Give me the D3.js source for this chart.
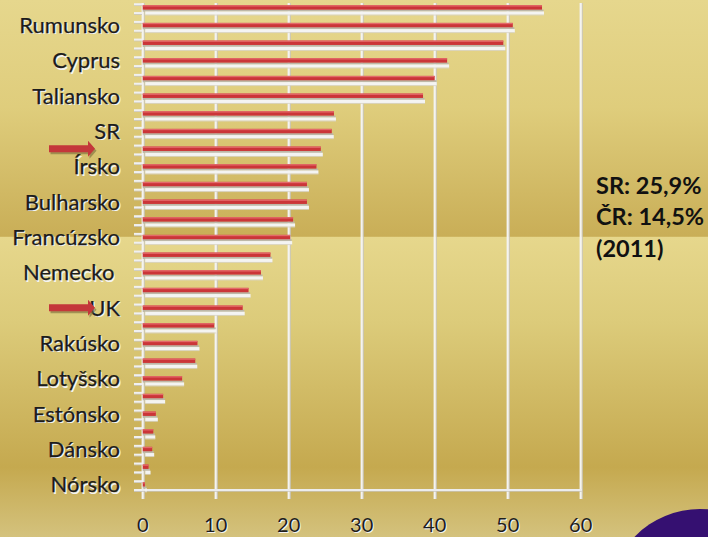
<!DOCTYPE html>
<html>
<head>
<meta charset="utf-8">
<script src="https://cdn.jsdelivr.net/npm/d3@7/dist/d3.min.js"></script>
<style>
  html, body { margin: 0; padding: 0; background: #e4d489; }
  svg { display: block; }
  text { white-space: pre; }
</style>
</head>
<body>
<svg id="chart" width="708" height="537"></svg>
<script>
// ---- data (top to bottom) ----
const categoryLabels = ["", "Rumunsko", "", "Cyprus", "", "Taliansko", "", "SR", "", "Írsko",
  "", "Bulharsko", "", "Francúzsko", "", "Nemecko ", "", "UK", "", "Rakúsko",
  "", "Lotyšsko", "", "Estónsko", "", "Dánsko", "", "Nórsko"];
const values = [54.7, 50.7, 49.4, 41.7, 40.0, 38.4, 26.2, 25.9, 24.4, 23.8,
  22.5, 22.5, 20.6, 20.2, 17.5, 16.2, 14.5, 13.7, 9.8, 7.5,
  7.2, 5.4, 2.8, 1.8, 1.45, 1.3, 0.8, 0.3];
const xTicks = [0, 10, 20, 30, 40, 50, 60];
const arrowRows = [8, 17];
const noteLines = ["SR: 25,9%", "ČR: 14,5%", "(2011)"];

const svg = d3.select("#chart");
const W = 708, H = 537;

// ---- background ----
const defs = svg.append("defs");
const bg = defs.append("linearGradient").attr("id", "bg").attr("x1", 0).attr("y1", 0).attr("x2", 0).attr("y2", 1);
[[0, "#e6d78d"], [0.2, "#dfcd7c"], [0.44, "#c9ae57"], [0.442, "#e6d78c"], [0.6, "#dccb7a"],
 [0.87, "#c5a94f"], [1, "#d4c27d"]].forEach(([o, c]) => bg.append("stop").attr("offset", o).attr("stop-color", c));
svg.append("rect").attr("width", W).attr("height", H).attr("fill", "url(#bg)");

// purple corner shape
svg.append("circle").attr("cx", 700).attr("cy", 600).attr("r", 91).attr("fill", "#351071");

// ---- scales ----
const x = d3.scaleLinear().domain([0, 60]).range([142.7, 580.7]);
const y = d3.scaleBand().domain(d3.range(values.length)).range([-4.6, 490]).padding(0);
const bw = y.bandwidth();
const redTop = i => y(i) + bw / 2 + 1.0;

// ---- grid lines ----
const grid = svg.append("g");
xTicks.forEach(t => {
  grid.append("line").attr("x1", x(t) + 1.6).attr("x2", x(t) + 1.6).attr("y1", 3).attr("y2", 499)
    .attr("stroke", "#c9c6bd").attr("stroke-width", 1);
  grid.append("line").attr("x1", x(t)).attr("x2", x(t)).attr("y1", 3).attr("y2", 499)
    .attr("stroke", "#f3f3f3").attr("stroke-width", 2.2);
});
// bottom axis line
grid.append("line").attr("x1", 134).attr("x2", x(60) + 1).attr("y1", 491.2).attr("y2", 491.2)
  .attr("stroke", "#c9c6bd").attr("stroke-width", 1);
grid.append("line").attr("x1", 134).attr("x2", x(60) + 1).attr("y1", 490).attr("y2", 490)
  .attr("stroke", "#ececec").attr("stroke-width", 2);

// left ticks every half band
const halfTicks = d3.range(values.length * 2).map(k => y(0) + bw / 2 + k * bw / 2);
halfTicks.forEach(ty => {
  grid.append("line").attr("x1", 134).attr("x2", 142).attr("y1", ty + 1.3).attr("y2", ty + 1.3)
    .attr("stroke", "#c9c6bd").attr("stroke-width", 1);
  grid.append("line").attr("x1", 134).attr("x2", 142).attr("y1", ty).attr("y2", ty)
    .attr("stroke", "#f0f0f0").attr("stroke-width", 2);
});

// ---- bars ----
const bars = svg.append("g");
values.forEach((v, i) => {
  const t = redTop(i);
  // shadow
  bars.append("rect").attr("x", x(0)).attr("y", t + 4.2).attr("width", Math.max(0, x(v) - x(0) + 1.5)).attr("height", 2.2)
    .attr("fill", "#bdb8a8");
  bars.append("rect").attr("x", x(0) + 2.5).attr("y", t + 6.2).attr("width", Math.max(0, x(v) - x(0) - 0.5)).attr("height", 3.3)
    .attr("fill", "#f4f4f2");
  bars.append("rect").attr("x", x(0) + 2.5).attr("y", t + 9.4).attr("width", Math.max(0, x(v) - x(0) - 0.5)).attr("height", 0.8)
    .attr("fill", "#d8d4c8");
  // red bar
  bars.append("rect").attr("x", x(0)).attr("y", t).attr("width", x(v) - x(0)).attr("height", 4.4)
    .attr("fill", "#cb3538");
  bars.append("rect").attr("x", x(0)).attr("y", t).attr("width", x(v) - x(0)).attr("height", 1.3)
    .attr("fill", "#e46a6a");
});

// ---- category labels ----
const labelFont = "Lato, 'Open Sans', sans-serif";
const lab = svg.append("g").attr("font-family", labelFont).attr("font-size", 22).attr("text-anchor", "end");
categoryLabels.forEach((name, i) => {
  if (!name) return;
  const by = redTop(i) + 2.2 + 8.0;
  lab.append("text").attr("x", 121.4).attr("y", by + 1.4).attr("fill", "#f4f4f4").text(name);
  lab.append("text").attr("x", 120).attr("y", by).attr("fill", "#1c1c1c")
    .attr("stroke", "#1c1c1c").attr("stroke-width", 0.25).text(name);
});

// ---- x tick labels ----
const xl = svg.append("g").attr("font-family", labelFont).attr("font-size", 20).attr("text-anchor", "middle");
xTicks.forEach(t => {
  xl.append("text").attr("x", x(t) + 1.1).attr("y", 532 + 1.1).attr("fill", "#f4f4f4").text(t);
  xl.append("text").attr("x", x(t)).attr("y", 532).attr("fill", "#1e1e1e").text(t);
});

// ---- arrows ----
arrowRows.forEach(r => {
  const cy = redTop(r) + 2.2;
  const p = `M49,${cy - 3.5} L88,${cy - 3.5} L88,${cy - 8} L95,${cy} L88,${cy + 8} L88,${cy + 3.5} L49,${cy + 3.5} Z`;
  svg.append("path").attr("d", p).attr("transform", "translate(1.5,2)").attr("fill", "#7a6a3a").attr("opacity", 0.6);
  svg.append("path").attr("d", p).attr("fill", "#c4373a");
});

// ---- note ----
const note = svg.append("g").attr("font-family", labelFont).attr("font-size", 23.5).attr("font-weight", "bold").attr("fill", "#111");
noteLines.forEach((s, k) => {
  note.append("text").attr("x", 596).attr("y", 193.5 + k * 31.5).text(s);
});
</script>
</body>
</html>
